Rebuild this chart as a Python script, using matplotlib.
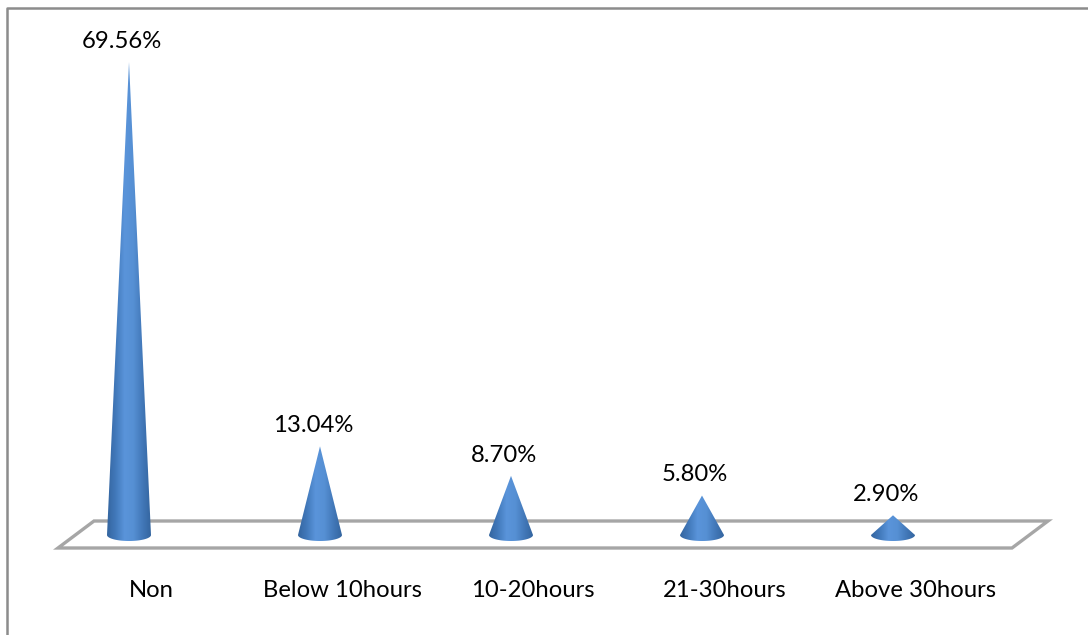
import numpy as np
import matplotlib
matplotlib.use("Agg")
import matplotlib.pyplot as plt
from matplotlib.colors import LinearSegmentedColormap
from matplotlib.patches import Polygon

categories = ["Non", "Below 10hours", "10-20hours", "21-30hours", "Above 30hours"]
values = [69.56, 13.04, 8.70, 5.80, 2.90]
labels = ["69.56%", "13.04%", "8.70%", "5.80%", "2.90%"]

W, H = 1088, 635
X0, DX = 129, 191     # pixel of first category, pixels per category
Y0, DY = 535, 6.8     # pixel of the zero line, pixels per percent

plt.rcParams["font.family"] = ["Lato", "DejaVu Sans"]

fig = plt.figure(figsize=(W / 100, H / 100), dpi=100)
ax = fig.add_axes([0, 0, 1, 1])
ax.axis("off")


def px(x, y):
    return (x - X0) / DX, (Y0 - y) / DY


# outer border, only top and left show
ax.plot(*zip(px(7, H), px(7, 8), px(W, 8)), color="#8c8c8c", lw=1.8, zorder=1)

# floor of the 3d chart
floor = [px(58, 548), px(94, 521), px(1048, 521), px(1012, 548)]
ax.add_patch(Polygon(floor, closed=True, fill=False, edgecolor="#a6a6a6", lw=2.4, joinstyle="miter", zorder=2))

cone_cmap = LinearSegmentedColormap.from_list(
    "cone", ["#34659f", "#4279bb", "#5a94da", "#5690d4", "#4379ba", "#34659f"])
shade = np.linspace(0, 1, 256).reshape(1, -1)

half_w = 22 / DX
depth = 6 / DY
t = np.linspace(np.pi, 2 * np.pi, 40)

for i, v in enumerate(values):
    arc = np.column_stack([i + half_w * np.cos(t), depth * np.sin(t)])
    outline = np.vstack([arc, [[i, v]]])
    im = ax.imshow(shade, cmap=cone_cmap, aspect="auto", zorder=3,
                   extent=[i - half_w, i + half_w, -depth, v], interpolation="bilinear")
    im.set_clip_path(Polygon(outline, closed=True, transform=ax.transData))
    ax.annotate(labels[i], (i, v), xytext=(-5, 15), textcoords="offset points",
                ha="center", va="center", fontsize=17.2, color="black", zorder=4)
    ax.annotate(categories[i], (i, 0), xytext=(16, -40), textcoords="offset points",
                ha="center", va="center", fontsize=17.2, color="black", zorder=4)

# imshow resets the limits
ax.set_xlim(-X0 / DX, (W - X0) / DX)
ax.set_ylim((Y0 - H) / DY, Y0 / DY)

fig.savefig("out.png", dpi=100, facecolor="white")
